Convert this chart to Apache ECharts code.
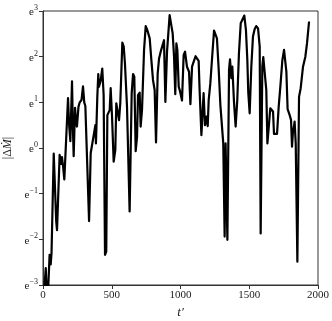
<!DOCTYPE html>
<html>
<head>
<meta charset="utf-8">
<script src="https://cdn.jsdelivr.net/npm/echarts@6/dist/echarts.min.js"></script>
<style>html,body{margin:0;padding:0;background:#fff}#c{width:332px;height:321px}</style>
</head>
<body>
<div id="c"></div>
<script>
// t' values
var tValues = [0,20,32,48,56,62,78,96,102,121,130,138,146,155,170,182,190,199,211,217,223,233,240,247,258,267,280,291,300,308,335,347,351,371,381,385,395,402,407,419,431,441,451,460,468,485,492,502,514,526,533,545,553,562,577,587,596,611,630,645,655,664,674,684,691,703,710,720,735,747,759,776,788,800,812,822,834,844,856,868,880,890,902,921,933,943,953,962,970,977,987,996,1011,1023,1033,1047,1062,1072,1084,1096,1110,1120,1132,1139,1152,1168,1178,1188,1198,1205,1217,1232,1244,1256,1265,1278,1290,1299,1311,1321,1328,1336,1341,1353,1360,1370,1377,1389,1401,1413,1425,1438,1455,1464,1476,1486,1493,1503,1515,1527,1539,1551,1564,1576,1583,1595,1602,1612,1624,1632,1644,1653,1665,1673,1680,1690,1702,1714,1726,1741,1753,1760,1770,1779,1794,1804,1811,1818,1825,1830,1838,1850,1862,1874,1891,1908,1920,1935];
// ln|ΔṀ| values (y axis shows powers of e)
var lnValues = [-3.5,-2.63,-3.5,-2.34,-2.55,-2.3,-0.12,-1.6,-1.8,-0.15,-0.35,-0.2,-0.4,-0.69,0.3,1.09,0.5,0.15,1.46,0.5,-0.18,0.88,0.6,0.47,0.9,1.0,1.05,1.35,1.0,0.92,-1.6,-0.11,-0.08,0.32,0.5,0.1,1.12,1.62,1.34,1.47,1.74,1.16,-2.34,-2.27,0.72,0.83,1.31,0.69,-0.3,-0.04,0.98,0.99,0.61,0.98,2.31,2.22,1.85,0.9,-1.39,1.2,1.62,1.56,-0.07,0.25,1.16,1.21,0.47,0.83,2.15,2.67,2.58,2.40,1.93,1.49,1.27,0.12,1.63,1.96,2.11,2.15,2.36,1.01,2.11,2.91,2.69,2.51,2.0,1.18,2.29,2.15,1.34,1.25,1.04,2.04,2.11,1.78,1.67,0.96,1.78,1.89,2.01,1.96,1.91,1.27,0.28,1.2,0.5,0.69,0.48,1.05,1.42,2.07,2.57,2.55,2.40,1.71,0.94,0.92,0.1,-1.94,0.1,0.14,-2.01,1.71,1.94,1.53,1.78,1.01,0.47,1.05,2.07,2.73,2.84,2.90,2.58,1.93,1.21,0.76,1.78,2.44,2.6,2.67,2.62,2.22,-1.87,1.78,1.99,1.96,1.27,0.1,0.54,0.87,0.9,0.8,0.31,0.32,0.31,0.9,1.34,1.93,2.15,2.18,1.67,0.85,0.72,0.61,0.03,0.36,0.47,0.58,0.1,-2.49,1.12,1.31,1.78,2.0,2.29,2.77];
var xTicks = [0,500,1000,1500,2000];
var yTickExps = [-3,-2,-1,0,1,2,3];

var data = tValues.map(function(t,i){return [t, lnValues[i]];});
var font = "'Liberation Serif', 'DejaVu Serif', serif";
var chart = echarts.init(document.getElementById('c'), null, {renderer:'canvas'});
chart.setOption({
  animation:false,
  grid:{left:43, right:14, top:11, bottom:36, show:true, borderColor:'#333', borderWidth:1, containLabel:false, outerBoundsMode:'none'},
  xAxis:{
    type:'value', min:xTicks[0], max:xTicks[xTicks.length-1], interval:500,
    name:"t\u2032", nameLocation:'middle', nameGap:21,
    nameTextStyle:{fontFamily:font, fontSize:13, fontStyle:'italic', color:'#222'},
    axisLine:{show:true, onZero:false, lineStyle:{color:'#333', width:1}},
    axisTick:{show:true, inside:false, length:4, lineStyle:{color:'#333'}},
    axisLabel:{fontFamily:font, fontSize:11, color:'#222', margin:5, formatter:function(v){return String(v);}},
    splitLine:{show:false}
  },
  yAxis:{
    type:'value', min:yTickExps[0], max:yTickExps[yTickExps.length-1], interval:1,
    name:"{a||\u0394}{m|\u1E40}{a||}", nameLocation:'middle', nameGap:25, nameRotate:90,
    nameTextStyle:{fontFamily:font, fontSize:12, color:'#222',
      rich:{a:{fontFamily:font, fontSize:12, color:'#222'}, m:{fontFamily:font, fontSize:12, fontStyle:'italic', color:'#222'}}},
    axisLine:{show:true, onZero:false, lineStyle:{color:'#333', width:1}},
    axisTick:{show:true, inside:false, length:4, lineStyle:{color:'#333'}},
    axisLabel:{fontFamily:font, color:'#222', margin:5,
      formatter:function(v){var n=Math.round(v); var s=(n<0?'\u2212'+(-n):''+n); return '{b|e}{s|'+s+'}';},
      rich:{b:{fontFamily:font, fontSize:11, color:'#222', lineHeight:14, verticalAlign:'bottom'},
            s:{fontFamily:font, fontSize:8, color:'#222', lineHeight:14, verticalAlign:'top', padding:[0,0,4,0]}}},
    splitLine:{show:false}
  },
  series:[{
    type:'line', data:data, showSymbol:false, symbol:'none', clip:true,
    lineStyle:{color:'#000', width:2.2, join:'round'}
  }]
});
</script>
</body>
</html>
